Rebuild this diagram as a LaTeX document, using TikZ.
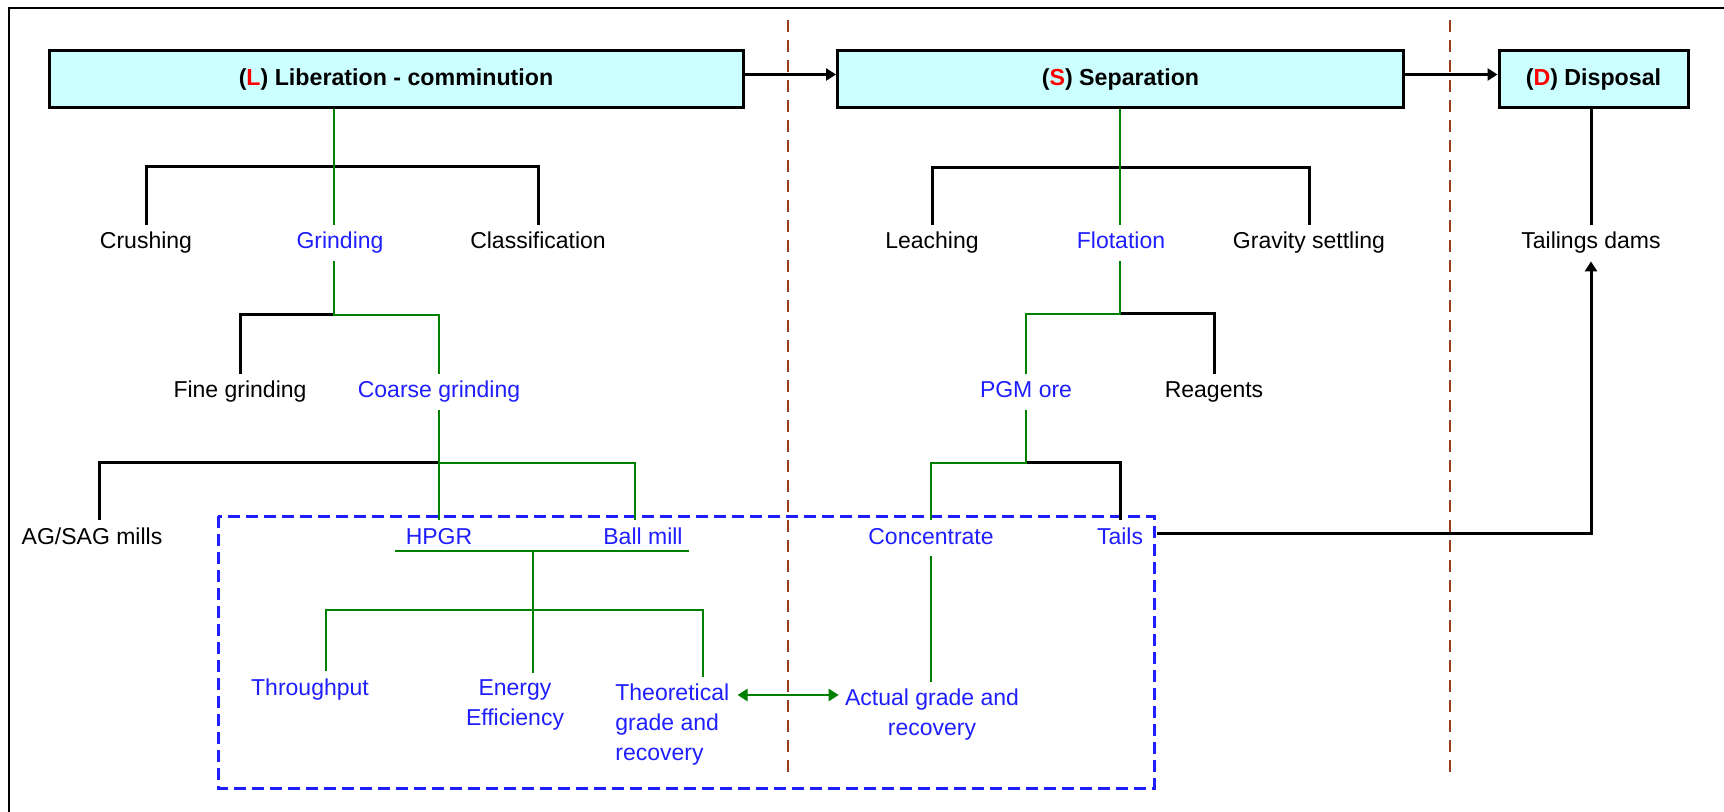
\documentclass[tikz,border=0pt]{standalone}
\usepackage{fontspec}
\setmainfont{Liberation Sans}
\usetikzlibrary{arrows.meta}
\definecolor{boxfill}{RGB}{204,255,255}
\definecolor{tgreen}{RGB}{0,128,0}
\definecolor{tblue}{RGB}{30,30,255}
\definecolor{divider}{RGB}{150,60,25}
\definecolor{tred}{RGB}{255,0,0}
\begin{document}
\begin{tikzpicture}[x=0.5pt,y=-0.5pt,
  stage/.style={draw, line width=1.5pt, fill=boxfill, inner sep=0pt,
    minimum height=28.5pt, font=\fontsize{11.6}{14}\selectfont\bfseries},
  item/.style={inner xsep=2pt, inner ysep=3.5pt, text height=8.5pt,
    text depth=2.5pt, font=\fontsize{11.5}{14}\selectfont},
  multi/.style={inner sep=3pt, font=\fontsize{11.5}{15}\selectfont},
  hl/.style={text=tblue},
  blk/.style={line width=1.5pt},
  grn/.style={line width=1.2pt, draw=tgreen},
  tip/.style={-{Triangle[length=5pt,width=6pt]}},
  stagediv/.style={divider, line width=1.4pt, dash pattern=on 6pt off 4pt},
]
\useasboundingbox (0,0) rectangle (1724,812);

% outer frame
\draw[line width=1.4pt] (9,812) -- (9,8) -- (1724,8);

% stage dividers
\draw[stagediv] (788,20) -- (788,777);
\draw[stagediv] (1450,20) -- (1450,777);

% grade/recovery focus region
\draw[tblue, line width=1.5pt, dash pattern=on 6pt off 3pt] (218,516) rectangle (1154,788);

% stage boxes
\node[stage, minimum width=347pt] (L) at (396,79.5) {(\textcolor{tred}{L}) Liberation - comminution};
\node[stage, minimum width=283pt] (S) at (1120.5,79.5) {(\textcolor{tred}{S}) Separation};
\node[stage, minimum width=94.5pt] (D) at (1593.5,79.5) {(\textcolor{tred}{D}) Disposal};

\draw[blk, tip] ([yshift=2.5pt]L.east) -- ([yshift=2.5pt]S.west);
\draw[blk, tip] ([yshift=2.5pt]S.east) -- ([yshift=2.5pt]D.west);

% liberation items
\node[item] (crush) at (146,243) {Crushing};
\node[item, hl] (grind) at (340,243) {Grinding};
\node[item] (class) at (538,243) {Classification};
\node[item] (fine) at (240,392) {Fine grinding};
\node[item, hl] (coarse) at (439,392) {Coarse grinding};
\node[item] (ag) at (92,538) {AG/SAG mills};
\node[item, hl] (hpgr) at (439,538) {HPGR};
\node[item, hl] (ball) at (643,538) {Ball mill};
\node[item, hl] (thr) at (310,689) {Throughput};
\node[multi, hl, align=center, anchor=north] (energy) at (515,673) {Energy\\Efficiency};
\node[multi, hl, align=left, anchor=north west] (theo) at (609,677) {Theoretical\\grade and\\recovery};

% separation items
\node[item] (leach) at (932,243) {Leaching};
\node[item, hl] (flot) at (1121,243) {Flotation};
\node[item] (grav) at (1309,243) {Gravity settling};
\node[item, hl] (pgm) at (1026,392) {PGM ore};
\node[item] (reag) at (1214,392) {Reagents};
\node[item, hl] (conc) at (931,538) {Concentrate};
\node[item, hl] (tails) at (1120,538) {Tails};
\node[multi, hl, align=center, anchor=north] (act) at (932,682) {Actual grade and\\recovery};

% disposal item
\node[item] (dams) at (1591,243) {Tailings dams};

% junctions
\coordinate (jL1) at (334,167);
\coordinate (jL2) at (334,315);
\coordinate (jL3) at (439,463);
\coordinate (jBall) at (635,463);
\coordinate (jAG) at (99,463);
\coordinate (ulL) at (395,551);
\coordinate (ulR) at (689,551);
\coordinate (jE1) at (533,551);
\coordinate (jE2) at (533,610);
\coordinate (jThr) at (326,610);
\coordinate (jTheo) at (703,610);
\coordinate (jS1) at (1120,168);
\coordinate (jS2) at (1120,314);
\coordinate (jS3) at (1026,463);

% liberation tree
\draw[blk] (crush.north) |- (jL1) -| (class.north);
\draw[grn] (jL1 |- L.south) -- (jL1 |- grind.north);
\draw[blk] (jL2) -| (fine.north);
\draw[grn] (jL1 |- grind.south) -- (jL2) -| (coarse.north);
\draw[blk] (jL3) -- (jAG) -- (jAG |- ag.north);
\draw[grn] (coarse.south) -- (jL3) -- (hpgr.north);
\draw[grn] (jL3) -- (jBall) -- (jBall |- ball.north);
\draw[grn] (ulL) -- (ulR);
\draw[grn] (jE1) -- (jE2) -- (jE2 |- energy.north);
\draw[grn] (jThr |- thr.north) -- (jThr) -- (jTheo) -- (jTheo |- theo.north);

% separation tree
\draw[blk] (leach.north) |- (jS1) -| (grav.north);
\draw[grn] (jS1 |- S.south) -- (jS1 |- flot.north);
\draw[blk] (jS2) -| (reag.north);
\draw[grn] (jS1 |- flot.south) -- (jS2) -| (pgm.north);
\draw[blk] (jS3) -| (tails.north);
\draw[grn] (pgm.south) -- (jS3) -| (conc.north);
\draw[grn] (conc.south) -- (conc.south |- act.north);

% theoretical vs actual
\coordinate (arrL) at ([yshift=-9pt]theo.north east);
\draw[grn, line width=1.3pt, {Triangle[length=5pt,width=6pt]}-{Triangle[length=5pt,width=6pt]}]
  ([xshift=1pt]arrL) -- (arrL -| act.west);

% disposal path
\draw[blk] (dams.north |- D.south) -- (dams.north);
\draw[blk, tip] ([shift={(5pt,2.5pt)}]tails.east) -| (dams.south);
\end{tikzpicture}
\end{document}
